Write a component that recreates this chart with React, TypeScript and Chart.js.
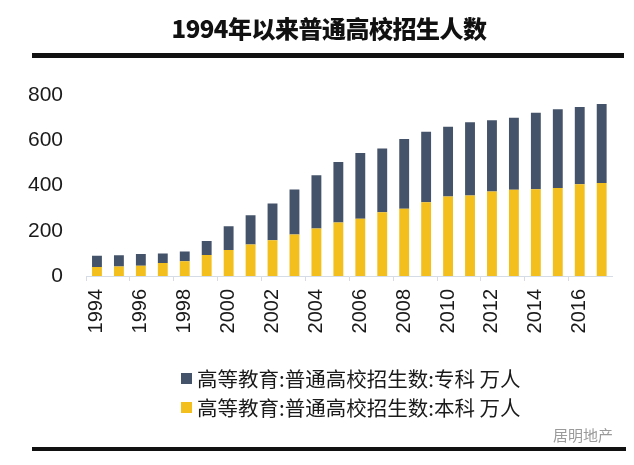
import React, { useEffect, useRef } from "react";
import { Chart, registerables } from "chart.js";

Chart.register(...registerables);

const years: string[] = [
  "1994", "1995", "1996", "1997", "1998", "1999", "2000", "2001", "2002", "2003", "2004", "2005",
  "2006", "2007", "2008", "2009", "2010", "2011", "2012", "2013", "2014", "2015", "2016", "2017",
];
// 本科 (万人)
const benke: number[] = [40, 42, 45, 58, 65, 93, 115, 139, 158, 183, 210, 237, 253, 282, 297, 326, 351, 356, 374, 381, 383, 389, 405, 411];
// 专科 (万人)
const zhuanke: number[] = [50, 50, 52, 42, 43, 62, 105, 129, 162, 199, 235, 267, 291, 282, 309, 312, 309, 324, 314, 318, 338, 348, 342, 349];

const yTicks: number[] = [0, 200, 400, 600, 800];

const titleText = "1994年以来普通高校招生人数";
const labelZhuanke = "高等教育:普通高校招生数:专科 万人";
const labelBenke = "高等教育:普通高校招生数:本科 万人";

const NAVY = "#44536A";
const GOLD = "#F3BF1D";

export default function App() {
  const ref = useRef<HTMLCanvasElement | null>(null);

  useEffect(() => {
    if (!ref.current) return;
    const chart = new Chart(ref.current, {
      type: "bar",
      data: {
        labels: years,
        datasets: [
          { label: labelBenke, data: benke, backgroundColor: GOLD, borderWidth: 0 },
          { label: labelZhuanke, data: zhuanke, backgroundColor: NAVY, borderWidth: 0 },
        ],
      },
      options: {
        responsive: false,
        animation: false,
        layout: { padding: { top: 95, right: 15, bottom: 109, left: 0 } },
        datasets: { bar: { categoryPercentage: 1, barPercentage: 0.45 } },
        plugins: {
          legend: { display: false },
          tooltip: { enabled: false },
          title: { display: false },
        },
        scales: {
          x: {
            stacked: true,
            afterFit: (s: any) => { s.height = 80; },
            grid: {
              display: true,
              drawOnChartArea: false,
              offset: true,
              tickLength: 5,
              color: (ctx: any) => (ctx.index % 2 === 0 ? "#D6DCE5" : "rgba(0,0,0,0)"),
            },
            border: { display: true, color: "#D6DCE5", width: 1 },
            ticks: {
              autoSkip: false,
              maxRotation: 90,
              minRotation: 90,
              padding: 8,
              color: "#1a1a1a",
              font: { family: "'Liberation Sans', Arial, sans-serif", size: 20 },
              callback: (_v: any, i: number) => (i % 2 === 0 ? years[i] : ""),
            },
          },
          y: {
            stacked: true,
            min: 0,
            max: 800,
            afterFit: (s: any) => { s.width = 86; },
            afterBuildTicks: (s: any) => { s.ticks = yTicks.map((v) => ({ value: v })); },
            grid: { display: false },
            border: { display: false },
            ticks: {
              padding: 15,
              color: "#1a1a1a",
              font: { family: "'Liberation Sans', Arial, sans-serif", size: 21 },
            },
          },
        },
      },
    });
    return () => chart.destroy();
  }, []);

  const legendItems = [
    { label: labelZhuanke, color: NAVY },
    { label: labelBenke, color: GOLD },
  ];

  return (
    <div
      style={{
        position: "absolute",
        left: 0,
        top: 0,
        width: 634,
        height: 465,
        background: "#fff",
        overflow: "hidden",
      }}
    >
      <canvas ref={ref} width={634} height={465} style={{ position: "absolute", left: 0, top: 0 }} />
      <div
        style={{
          position: "absolute",
          left: 12,
          top: 13,
          width: 634,
          textAlign: "center",
          fontFamily: "'Noto Sans CJK SC', sans-serif",
          fontWeight: 900,
          fontSize: 24,
          lineHeight: "30px",
          color: "#111",
          letterSpacing: -0.5,
        }}
      >
        {titleText}
      </div>
      <div style={{ position: "absolute", left: 32, top: 53, width: 592, height: 5, background: "#111" }} />
      <div style={{ position: "absolute", left: 32, top: 447, width: 594, height: 4, background: "#111" }} />
      <div
        style={{
          position: "absolute",
          left: 553,
          top: 426,
          fontFamily: "'Noto Sans CJK SC', sans-serif",
          fontSize: 15,
          lineHeight: "18px",
          color: "#9a9a9a",
        }}
      >
        居明地产
      </div>
      <div style={{ position: "absolute", left: 181, top: 364 }}>
        {legendItems.map((it) => (
          <div
            key={it.label}
            style={{ display: "flex", alignItems: "center", height: 29, whiteSpace: "nowrap" }}
          >
            <span style={{ display: "inline-block", width: 11, height: 11, background: it.color, marginRight: 5 }} />
            <span
              style={{
                fontFamily: "'Noto Sans CJK SC', sans-serif",
                fontSize: 20.5,
                lineHeight: "29px",
                color: "#1a1a1a",
              }}
            >
              {it.label}
            </span>
          </div>
        ))}
      </div>
    </div>
  );
}
